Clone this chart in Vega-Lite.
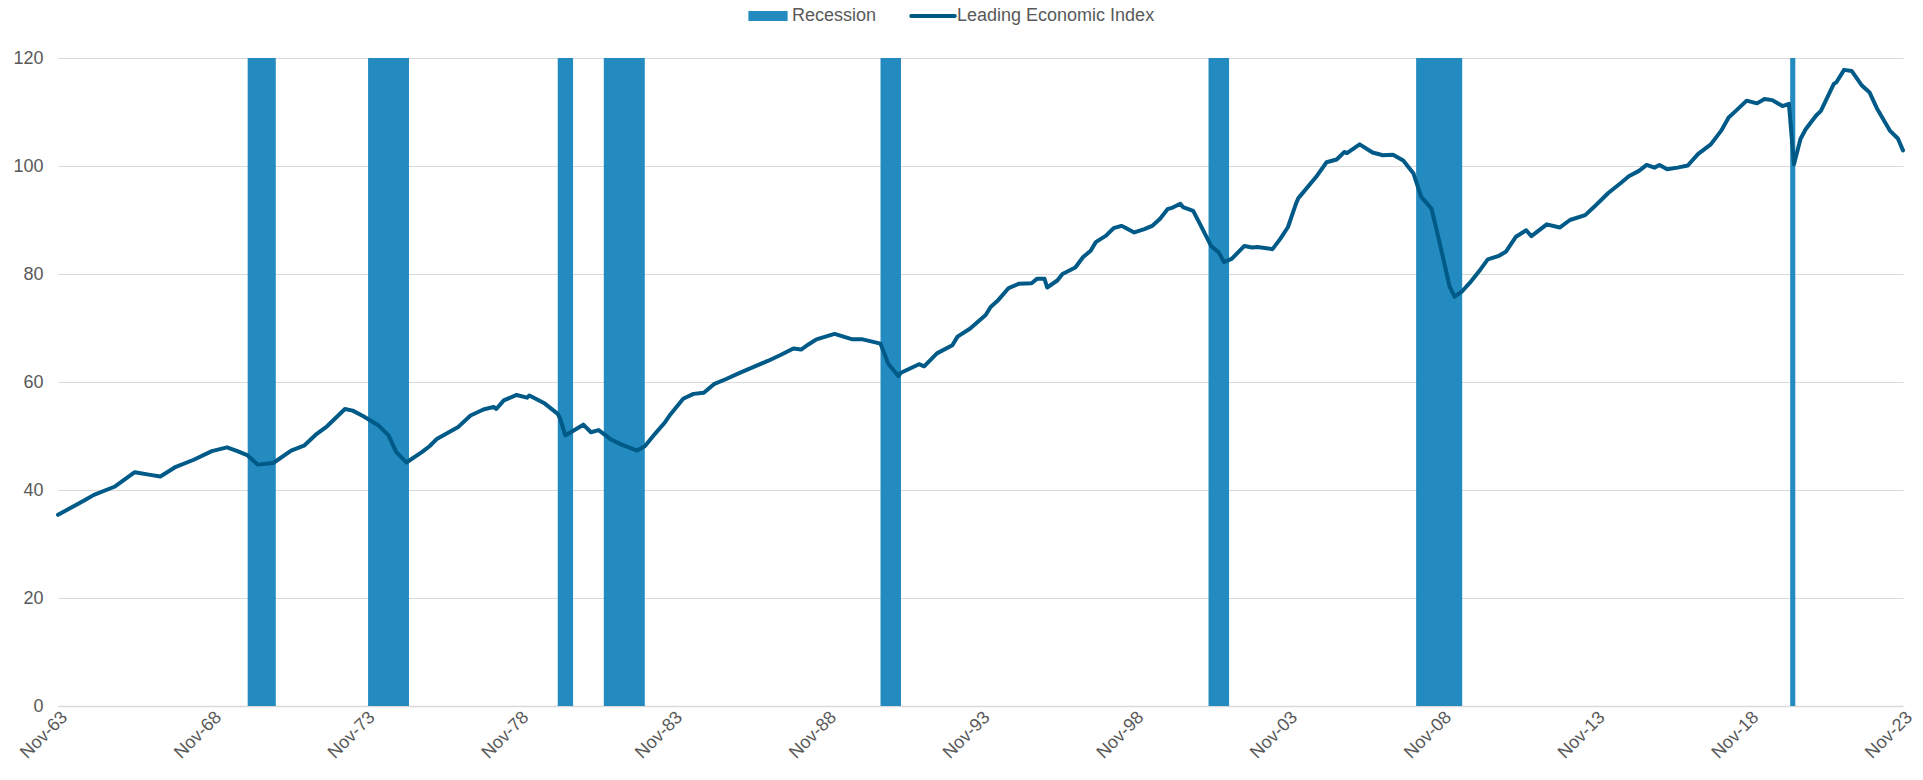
{
  "$schema": "https://vega.github.io/schema/vega-lite/v6.json",
  "width": 1845,
  "height": 648,
  "autosize": {"type": "none"},
  "padding": {"left": 58, "top": 58, "right": 20, "bottom": 74},
  "background": "white",
  "config": {"font": "Liberation Sans", "view": {"stroke": null}},
  "layer": [
    {
      "data": {
        "values": [
          {"start": "1970-01-01", "end": "1970-12-01"},
          {"start": "1973-12-01", "end": "1975-04-01"},
          {"start": "1980-02-01", "end": "1980-08-01"},
          {"start": "1981-08-01", "end": "1982-12-01"},
          {"start": "1990-08-01", "end": "1991-04-01"},
          {"start": "2001-04-01", "end": "2001-12-01"},
          {"start": "2008-01-01", "end": "2009-07-01"},
          {"start": "2020-03-01", "end": "2020-05-01"}
        ],
        "format": {"parse": {"start": "date:'%Y-%m-%d'", "end": "date:'%Y-%m-%d'"}}
      },
      "mark": {"type": "rect"},
      "encoding": {
        "x": {
          "field": "start",
          "type": "temporal",
          "scale": {"domain": [{"year": 1963, "month": 11, "date": 1}, {"year": 2023, "month": 11, "date": 1}]},
          "axis": {
            "title": null,
            "values": [
              {"year": 1963, "month": 11, "date": 1}, {"year": 1968, "month": 11, "date": 1},
              {"year": 1973, "month": 11, "date": 1}, {"year": 1978, "month": 11, "date": 1},
              {"year": 1983, "month": 11, "date": 1}, {"year": 1988, "month": 11, "date": 1},
              {"year": 1993, "month": 11, "date": 1}, {"year": 1998, "month": 11, "date": 1},
              {"year": 2003, "month": 11, "date": 1}, {"year": 2008, "month": 11, "date": 1},
              {"year": 2013, "month": 11, "date": 1}, {"year": 2018, "month": 11, "date": 1},
              {"year": 2023, "month": 11, "date": 1}
            ],
            "format": "%b-%y",
            "grid": false,
            "ticks": false,
            "domain": true,
            "domainColor": "#d9d9d9",
            "domainWidth": 1.5,
            "labelAngle": -45,
            "labelAlign": "right",
            "labelBaseline": "top",
            "labelFontSize": 18,
            "labelColor": "#595959",
            "labelPadding": 2,
            "labelOverlap": false
          }
        },
        "x2": {"field": "end"},
        "y": {
          "datum": 0,
          "type": "quantitative",
          "scale": {"domain": [0, 120]},
          "axis": {
            "title": null,
            "values": [0, 20, 40, 60, 80, 100, 120],
            "grid": true,
            "gridColor": "#d9d9d9",
            "gridWidth": 1,
            "ticks": false,
            "domain": false,
            "labelFontSize": 18,
            "labelColor": "#595959",
            "labelPadding": 15
          }
        },
        "y2": {"datum": 120},
        "color": {
          "datum": "Recession",
          "type": "nominal",
          "scale": {"domain": ["Recession", "Leading Economic Index"], "range": ["#238bbf", "#005a87"]},
          "legend": {
            "title": null,
            "orient": "none",
            "direction": "horizontal",
            "legendX": 701,
            "legendY": -51,
            "labelFontSize": 18,
            "labelColor": "#595959",
            "labelLimit": 0,
            "labelOffset": 15,
            "columnPadding": 26,
            "symbolSize": 1900,
            "encode": {
              "symbols": {
                "update": {
                  "shape": {"signal": "datum.value === 'Recession' ? 'M-0.9,-0.23H0.9V0.23H-0.9Z' : 'M-1,0H1'"},
                  "fill": {"signal": "datum.value === 'Recession' ? '#238bbf' : 'transparent'"},
                  "stroke": {"signal": "datum.value === 'Recession' ? '#238bbf' : '#005a87'"},
                  "strokeWidth": {"signal": "datum.value === 'Recession' ? 0 : 4"},
                  "strokeCap": {"value": "round"}
                }
              }
            }
          }
        }
      }
    },
    {
      "data": {
        "values": [
          {"date": "1963-11-01", "value": 35.4}, {"date": "1964-09-01", "value": 38.0}, {"date": "1965-01-01", "value": 39.1},
          {"date": "1965-09-01", "value": 40.6}, {"date": "1966-05-01", "value": 43.3}, {"date": "1966-11-01", "value": 42.8},
          {"date": "1967-03-01", "value": 42.5}, {"date": "1967-09-01", "value": 44.3}, {"date": "1968-04-01", "value": 45.6},
          {"date": "1968-11-01", "value": 47.2}, {"date": "1969-05-01", "value": 47.9}, {"date": "1969-09-01", "value": 47.2},
          {"date": "1970-01-01", "value": 46.4}, {"date": "1970-05-01", "value": 44.7}, {"date": "1970-11-01", "value": 45.0},
          {"date": "1971-06-01", "value": 47.3}, {"date": "1971-11-01", "value": 48.2}, {"date": "1972-04-01", "value": 50.4},
          {"date": "1972-08-01", "value": 51.8}, {"date": "1973-03-01", "value": 55.0}, {"date": "1973-06-01", "value": 54.7},
          {"date": "1973-10-01", "value": 53.7}, {"date": "1974-04-01", "value": 52.0}, {"date": "1974-08-01", "value": 50.1},
          {"date": "1974-11-01", "value": 47.0}, {"date": "1975-03-01", "value": 45.1}, {"date": "1975-09-01", "value": 47.0},
          {"date": "1975-12-01", "value": 48.1}, {"date": "1976-03-01", "value": 49.5}, {"date": "1976-11-01", "value": 51.6},
          {"date": "1977-04-01", "value": 53.8}, {"date": "1977-09-01", "value": 54.9}, {"date": "1978-01-01", "value": 55.4},
          {"date": "1978-02-01", "value": 55.0}, {"date": "1978-05-01", "value": 56.6}, {"date": "1978-10-01", "value": 57.6},
          {"date": "1979-02-01", "value": 57.1}, {"date": "1979-03-01", "value": 57.5}, {"date": "1979-09-01", "value": 56.0},
          {"date": "1980-02-01", "value": 54.1}, {"date": "1980-03-01", "value": 53.2}, {"date": "1980-05-01", "value": 50.1},
          {"date": "1980-12-01", "value": 52.1}, {"date": "1981-03-01", "value": 50.7}, {"date": "1981-06-01", "value": 51.1},
          {"date": "1981-11-01", "value": 49.3}, {"date": "1982-03-01", "value": 48.4}, {"date": "1982-09-01", "value": 47.3},
          {"date": "1982-12-01", "value": 48.1}, {"date": "1983-04-01", "value": 50.4}, {"date": "1983-08-01", "value": 52.6},
          {"date": "1983-10-01", "value": 54.0}, {"date": "1984-03-01", "value": 56.9}, {"date": "1984-07-01", "value": 57.8},
          {"date": "1984-11-01", "value": 58.0}, {"date": "1985-03-01", "value": 59.6}, {"date": "1985-08-01", "value": 60.6},
          {"date": "1986-01-01", "value": 61.7}, {"date": "1986-07-01", "value": 62.9}, {"date": "1986-12-01", "value": 63.9},
          {"date": "1987-05-01", "value": 65.0}, {"date": "1987-10-01", "value": 66.2}, {"date": "1988-01-01", "value": 66.0},
          {"date": "1988-04-01", "value": 67.0}, {"date": "1988-07-01", "value": 67.9}, {"date": "1989-02-01", "value": 68.9},
          {"date": "1989-09-01", "value": 67.9}, {"date": "1990-01-01", "value": 67.9}, {"date": "1990-08-01", "value": 67.1},
          {"date": "1990-11-01", "value": 63.4}, {"date": "1991-03-01", "value": 61.1}, {"date": "1991-04-01", "value": 61.7},
          {"date": "1991-11-01", "value": 63.3}, {"date": "1992-01-01", "value": 62.9}, {"date": "1992-06-01", "value": 65.3},
          {"date": "1992-12-01", "value": 66.8}, {"date": "1993-02-01", "value": 68.4}, {"date": "1993-07-01", "value": 69.9},
          {"date": "1994-01-01", "value": 72.4}, {"date": "1994-03-01", "value": 73.9}, {"date": "1994-06-01", "value": 75.2},
          {"date": "1994-10-01", "value": 77.4}, {"date": "1995-02-01", "value": 78.2}, {"date": "1995-07-01", "value": 78.3},
          {"date": "1995-09-01", "value": 79.1}, {"date": "1995-12-01", "value": 79.1}, {"date": "1996-01-01", "value": 77.5},
          {"date": "1996-05-01", "value": 78.8}, {"date": "1996-07-01", "value": 80.0}, {"date": "1996-12-01", "value": 81.2},
          {"date": "1997-03-01", "value": 83.1}, {"date": "1997-06-01", "value": 84.3}, {"date": "1997-08-01", "value": 85.9},
          {"date": "1997-12-01", "value": 87.1}, {"date": "1998-03-01", "value": 88.5}, {"date": "1998-06-01", "value": 88.9},
          {"date": "1998-07-01", "value": 88.7}, {"date": "1998-11-01", "value": 87.7}, {"date": "1999-03-01", "value": 88.3},
          {"date": "1999-06-01", "value": 88.9}, {"date": "1999-09-01", "value": 90.2}, {"date": "1999-12-01", "value": 92.0},
          {"date": "2000-02-01", "value": 92.3}, {"date": "2000-05-01", "value": 93.0}, {"date": "2000-06-01", "value": 92.4},
          {"date": "2000-10-01", "value": 91.7}, {"date": "2001-01-01", "value": 88.9}, {"date": "2001-05-01", "value": 85.2},
          {"date": "2001-08-01", "value": 84.0}, {"date": "2001-10-01", "value": 82.2}, {"date": "2002-01-01", "value": 82.8},
          {"date": "2002-06-01", "value": 85.2}, {"date": "2002-09-01", "value": 84.9}, {"date": "2002-11-01", "value": 85.0},
          {"date": "2003-05-01", "value": 84.6}, {"date": "2003-08-01", "value": 86.5}, {"date": "2003-11-01", "value": 88.7},
          {"date": "2004-02-01", "value": 92.9}, {"date": "2004-03-01", "value": 94.0}, {"date": "2004-10-01", "value": 98.0},
          {"date": "2005-02-01", "value": 100.7}, {"date": "2005-06-01", "value": 101.2}, {"date": "2005-09-01", "value": 102.6},
          {"date": "2005-10-01", "value": 102.4}, {"date": "2006-03-01", "value": 104.0}, {"date": "2006-08-01", "value": 102.5},
          {"date": "2006-12-01", "value": 102.0}, {"date": "2007-04-01", "value": 102.1}, {"date": "2007-08-01", "value": 101.0},
          {"date": "2007-12-01", "value": 98.6}, {"date": "2008-03-01", "value": 94.3}, {"date": "2008-07-01", "value": 92.1},
          {"date": "2008-09-01", "value": 88.1}, {"date": "2008-12-01", "value": 82.0}, {"date": "2009-02-01", "value": 77.7},
          {"date": "2009-04-01", "value": 75.8}, {"date": "2009-07-01", "value": 76.8}, {"date": "2009-10-01", "value": 78.4},
          {"date": "2010-02-01", "value": 80.8}, {"date": "2010-05-01", "value": 82.7}, {"date": "2010-09-01", "value": 83.3},
          {"date": "2010-12-01", "value": 84.1}, {"date": "2011-04-01", "value": 86.9}, {"date": "2011-08-01", "value": 88.1},
          {"date": "2011-10-01", "value": 87.0}, {"date": "2012-04-01", "value": 89.2}, {"date": "2012-09-01", "value": 88.6},
          {"date": "2013-01-01", "value": 90.0}, {"date": "2013-07-01", "value": 90.9}, {"date": "2013-11-01", "value": 92.7},
          {"date": "2014-04-01", "value": 95.0}, {"date": "2014-09-01", "value": 96.9}, {"date": "2014-12-01", "value": 98.1},
          {"date": "2015-04-01", "value": 99.1}, {"date": "2015-07-01", "value": 100.2}, {"date": "2015-10-01", "value": 99.7},
          {"date": "2015-12-01", "value": 100.2}, {"date": "2016-03-01", "value": 99.4}, {"date": "2016-07-01", "value": 99.7},
          {"date": "2016-11-01", "value": 100.1}, {"date": "2017-03-01", "value": 102.2}, {"date": "2017-08-01", "value": 104.0},
          {"date": "2017-12-01", "value": 106.5}, {"date": "2018-03-01", "value": 109.0}, {"date": "2018-06-01", "value": 110.3},
          {"date": "2018-10-01", "value": 112.1}, {"date": "2019-02-01", "value": 111.6}, {"date": "2019-05-01", "value": 112.4},
          {"date": "2019-08-01", "value": 112.2}, {"date": "2019-12-01", "value": 111.1}, {"date": "2020-02-15", "value": 111.5},
          {"date": "2020-04-15", "value": 100.3}, {"date": "2020-07-01", "value": 105.0}, {"date": "2020-09-01", "value": 106.8},
          {"date": "2021-01-01", "value": 109.3}, {"date": "2021-03-01", "value": 110.2}, {"date": "2021-08-01", "value": 115.2},
          {"date": "2021-09-01", "value": 115.5}, {"date": "2021-12-01", "value": 117.8}, {"date": "2022-03-01", "value": 117.6},
          {"date": "2022-07-01", "value": 114.9}, {"date": "2022-10-01", "value": 113.6}, {"date": "2023-01-01", "value": 110.5},
          {"date": "2023-06-01", "value": 106.5}, {"date": "2023-09-01", "value": 105.1}, {"date": "2023-11-01", "value": 102.9}
        ],
        "format": {"parse": {"date": "date:'%Y-%m-%d'"}}
      },
      "mark": {"type": "line", "strokeWidth": 4, "strokeJoin": "round", "strokeCap": "round"},
      "encoding": {
        "x": {"field": "date", "type": "temporal"},
        "y": {"field": "value", "type": "quantitative"},
        "color": {"datum": "Leading Economic Index", "type": "nominal"}
      }
    }
  ]
}
